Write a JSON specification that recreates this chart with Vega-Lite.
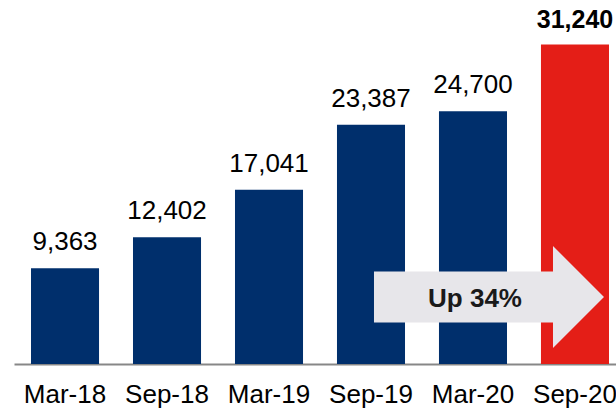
{
  "$schema": "https://vega.github.io/schema/vega-lite/v6.json",
  "width": 612,
  "height": 358,
  "autosize": {"type": "none"},
  "padding": {"left": 14, "top": 6, "right": 0, "bottom": 47},
  "background": "white",
  "config": {"view": {"stroke": null}, "font": "Liberation Sans"},
  "data": {
    "values": [
      {"period": "Mar-18", "value": 9363, "group": "past"},
      {"period": "Sep-18", "value": 12402, "group": "past"},
      {"period": "Mar-19", "value": 17041, "group": "past"},
      {"period": "Sep-19", "value": 23387, "group": "past"},
      {"period": "Mar-20", "value": 24700, "group": "past"},
      {"period": "Sep-20", "value": 31240, "group": "latest"}
    ]
  },
  "layer": [
    {
      "mark": {"type": "bar"},
      "encoding": {
        "x": {
          "field": "period",
          "type": "nominal",
          "sort": null,
          "scale": {"paddingInner": 0.333, "paddingOuter": 0.1667},
          "axis": {
            "title": null,
            "domain": true,
            "domainColor": "#878787",
            "domainWidth": 2,
            "ticks": false,
            "tickSize": 0,
            "grid": false,
            "labelAngle": 0,
            "labelFont": "Liberation Sans",
            "labelFontSize": 26,
            "labelColor": "#000000",
            "labelBaseline": "alphabetic",
            "labelPadding": 38
          }
        },
        "y": {
          "field": "value",
          "type": "quantitative",
          "scale": {"domain": [0, 35000]},
          "axis": null
        },
        "color": {
          "field": "group",
          "type": "nominal",
          "scale": {"domain": ["past", "latest"], "range": ["#002F6C", "#E41E17"]},
          "legend": null
        }
      }
    },
    {
      "transform": [{"filter": "datum.group === 'past'"}],
      "mark": {"type": "text", "baseline": "alphabetic", "align": "center", "dy": -18, "fontSize": 26, "color": "#000000", "font": "Liberation Sans"},
      "encoding": {
        "x": {"field": "period", "type": "nominal", "sort": null},
        "y": {"field": "value", "type": "quantitative"},
        "text": {"field": "value", "type": "quantitative", "format": ","}
      }
    },
    {
      "transform": [{"filter": "datum.group === 'latest'"}],
      "mark": {"type": "text", "baseline": "alphabetic", "align": "center", "dy": -16, "fontSize": 25, "fontWeight": "bold", "color": "#000000", "font": "Liberation Sans"},
      "encoding": {
        "x": {"field": "period", "type": "nominal", "sort": null},
        "y": {"field": "value", "type": "quantitative"},
        "text": {"field": "value", "type": "quantitative", "format": ","}
      }
    },
    {
      "data": {"values": [{"label": "Up 34%"}]},
      "mark": {
        "type": "point",
        "shape": "M-1.98,-0.51L1.6,-0.51L1.6,-1.02L2.62,0L1.6,1.02L1.6,0.51L-1.98,0.51Z",
        "filled": true,
        "fill": "#e7e6ea",
        "opacity": 1,
        "strokeWidth": 0,
        "size": 10000
      },
      "encoding": {
        "x": {"datum": "Mar-20", "type": "nominal"},
        "y": {"datum": 6550, "type": "quantitative"}
      }
    },
    {
      "data": {"values": [{"label": "Up 34%"}]},
      "mark": {"type": "text", "baseline": "alphabetic", "align": "center", "dx": 2, "dy": 10, "fontSize": 26, "fontWeight": "bold", "color": "#1a1a1a", "font": "Liberation Sans"},
      "encoding": {
        "x": {"datum": "Mar-20", "type": "nominal"},
        "y": {"datum": 6550, "type": "quantitative"},
        "text": {"field": "label", "type": "nominal"}
      }
    }
  ]
}
